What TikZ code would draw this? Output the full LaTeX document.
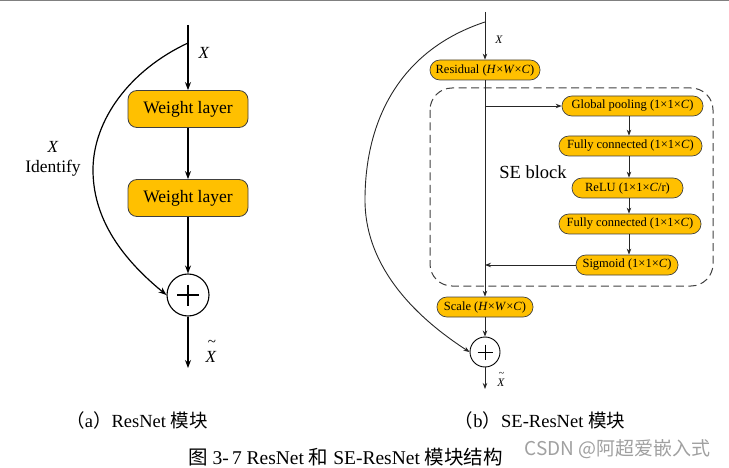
\documentclass[tikz,border=0pt]{standalone}
\usepackage{fontspec}
\setmainfont{Liberation Serif}
\newfontfamily\cjk{Noto Sans CJK SC}
\usetikzlibrary{arrows.meta,calc}
\definecolor{gold}{HTML}{FFC000}
\definecolor{wmgray}{HTML}{A0A0A0}
\begin{document}
\begin{tikzpicture}[x=1pt,y=-1pt,
  bigbox/.style={draw=black!75,line width=0.8pt,fill=gold,rounded corners=9pt,minimum width=120pt,minimum height=37pt,inner sep=0pt,font=\rmfamily\fontsize{17.5}{20}\selectfont},
  sebox/.style={draw=black!75,line width=0.7pt,fill=gold,rounded corners=9.8pt,minimum height=20pt,inner sep=0pt,font=\rmfamily\fontsize{12.5}{14}\selectfont},
  bigline/.style={line width=1.2pt,black},
  smline/.style={line width=0.9pt,black!85},
  bigarr/.style={bigline,-{Stealth[length=8pt,width=6pt]}},
  smarr/.style={smline,-{Stealth[length=6pt,width=4.5pt]}},
  sumc/.style={circle,draw=black,fill=white,inner sep=0pt},
  lbl/.style={inner sep=0pt},
]
\useasboundingbox (0,0) rectangle (729,468);
\draw[line width=1.5pt,black!50] (0,0.75) -- (729,0.75);

% ---------- (a) ResNet ----------
\coordinate (ltop) at (188,25);
\coordinate (lsplit) at (188,43);
\node[bigbox] (w1) at (188,109) {Weight layer};
\node[bigbox] (w2) at (188,198) {Weight layer};
\node[sumc,line width=1.1pt,minimum size=42pt] (lc) at (188,295) {};
\draw[line width=1.1pt] ($(lc.center)+(-11,0)$) -- ($(lc.center)+(11,0)$);
\draw[line width=1.1pt] ($(lc.center)+(0,-10.5)$) -- ($(lc.center)+(0,10.5)$);
\coordinate (lend) at (188,368);
\draw[bigarr] (ltop) -- (w1.north);
\draw[bigarr] (w1.south) -- (w2.north);
\draw[bigarr] (w2.south) -- (lc.north);
\draw[bigarr] (lc.south) -- (lend);
\draw[bigarr] (lsplit) .. controls (130,70) and (93,120) .. (93,170)
   .. controls (93,225) and (130,265) .. (lc.west);
\node[lbl,font=\rmfamily\fontsize{17}{20}\selectfont] (lx) at (204,53) {\textit{X}};
\node[lbl,font=\rmfamily\fontsize{17}{20}\selectfont] (lidx) at (53,147) {\textit{X}};
\node[lbl,font=\rmfamily\fontsize{17.5}{20}\selectfont] (lid) at (53,168) {Identify};
\node[lbl,font=\rmfamily\fontsize{17}{20}\selectfont] (lxt) at (211,357) {\textit{X}};
\node[lbl,font=\rmfamily\fontsize{15}{18}\selectfont] (lxtt) at (212,343) {\textasciitilde};

% ---------- (b) SE-ResNet ----------
\coordinate (rtop) at (485,12);
\coordinate (rsplit) at (485,22);
\coordinate (ax) at (629,0);
\node[sebox,minimum width=110pt] (res) at (485,70) {Residual (\textit{H}×\textit{W}×\textit{C})};
\draw[black!75,line width=1pt,dash pattern=on 8pt off 4.5pt,rounded corners=22pt] (430,88) rectangle (713,286);
\node[sebox,minimum width=141pt] (gp) at (632.5,106) {Global pooling (1×1×\textit{C})};
\node[sebox,minimum width=143pt] (fc1) at (630.5,146) {Fully connected (1×1×\textit{C})};
\node[sebox,minimum width=111pt] (relu) at (627.5,188) {ReLU (1×1×\textit{C}/r)};
\node[sebox,minimum width=142pt] (fc2) at (630,224) {Fully connected (1×1×\textit{C})};
\node[sebox,minimum width=102pt] (sig) at (627,265) {Sigmoid (1×1×\textit{C})};
\node[sebox,minimum width=96pt] (scale) at (485,307) {Scale (\textit{H}×\textit{W}×\textit{C})};
\node[sumc,line width=0.9pt,minimum size=30pt] (rc) at (485,352) {};
\draw[line width=0.9pt] ($(rc.center)+(-7.5,0)$) -- ($(rc.center)+(7.5,0)$);
\draw[line width=0.9pt] ($(rc.center)+(0,-7.5)$) -- ($(rc.center)+(0,7.5)$);
\coordinate (rbr) at (485,106);
\coordinate (rjn) at (485,265);
\coordinate (rend) at (485,389);
\node[lbl,font=\rmfamily\fontsize{18.5}{22}\selectfont] (se) at (533,172) {SE block};

\draw[smarr] (rtop) -- (res.north);
\draw[smarr] (res.south) -- (scale.north);
\draw[smarr] (rbr) -- (gp.west);
\draw[smarr] (gp.south -| ax) -- (fc1.north -| ax);
\draw[smarr] (fc1.south -| ax) -- (relu.north -| ax);
\draw[smarr] (relu.south -| ax) -- (fc2.north -| ax);
\draw[smarr] (fc2.south -| ax) -- (sig.north -| ax);
\draw[smarr] (sig.west) -- (rjn);
\draw[smarr] (scale.south) -- (rc.north);
\draw[smarr] (rc.south) -- (rend);
\draw[smline,-{Stealth[length=6pt,width=4.5pt]}] (rsplit) .. controls (400,50) and (365,120) .. (365,200)
   .. controls (365,270) and (420,320) .. (rc.west);
\node[lbl,font=\rmfamily\fontsize{11.5}{14}\selectfont] (rx) at (499,40) {\textit{X}};
\node[lbl,font=\rmfamily\fontsize{11.5}{14}\selectfont] (rxt) at (501,383) {\textit{X}};
\node[lbl,font=\rmfamily\fontsize{10}{12}\selectfont] (rxtt) at (501.5,374) {\textasciitilde};

% ---------- captions ----------
\node[lbl,font=\rmfamily\fontsize{18.5}{22}\selectfont] (capa) at (137,420) {{\cjk （}a{\cjk ）}ResNet {\cjk 模块}};
\node[lbl,font=\rmfamily\fontsize{18.5}{22}\selectfont] (capb) at (540,420) {{\cjk （}b{\cjk ）}SE-ResNet {\cjk 模块}};
\node[lbl,font=\rmfamily\fontsize{19.5}{23}\selectfont] (capm) at (345.5,457) {{\cjk 图} 3-\,7 ResNet {\cjk 和} SE-ResNet {\cjk 模块结构}};
\node[lbl,font=\fontsize{19}{22}\selectfont\cjk,text=wmgray] (wm) at (617.5,449) {CSDN @阿超爱嵌入式};
\end{tikzpicture}
\end{document}
